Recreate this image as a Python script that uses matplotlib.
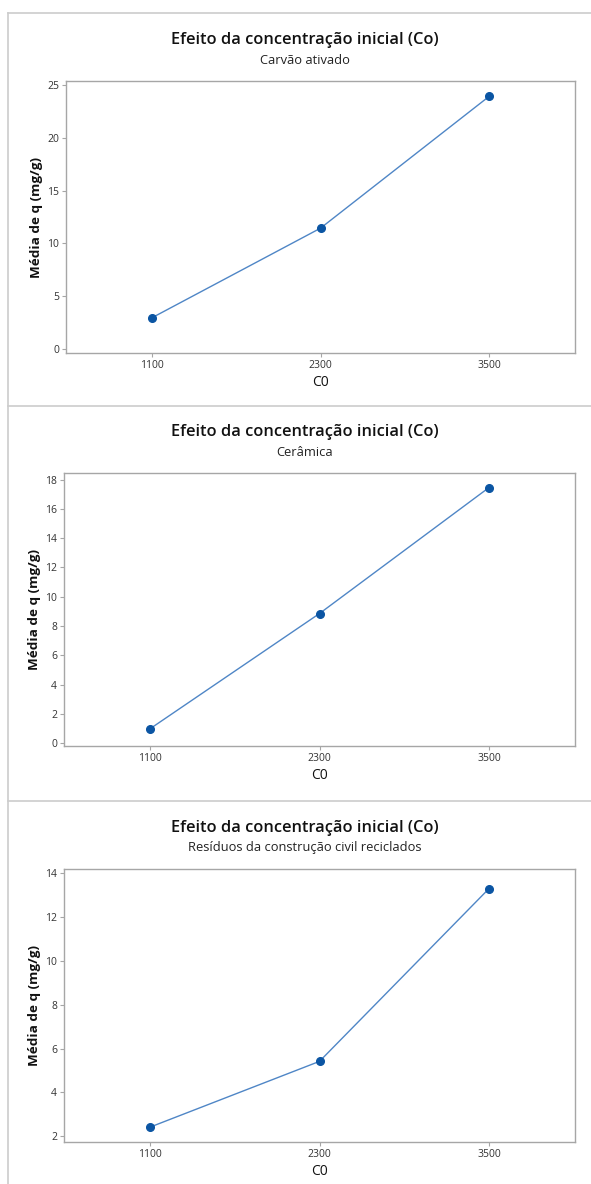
import numpy as np
import matplotlib
matplotlib.use("Agg")
import matplotlib.pyplot as plt
from matplotlib.lines import Line2D

plt.rcParams['font.family'] = ['Open Sans', 'DejaVu Sans']

# Data
c0_levels = [1100, 2300, 3500]
c0_labels = ['1100', '2300', '3500']
q_carvao = [2.95, 11.45, 23.95]
q_ceramica = [0.98, 8.85, 17.45]
q_residuos = [2.42, 5.42, 13.3]

main_title = 'Efeito da concentração inicial (Co)'
subtitles = ['Carvão ativado', 'Cerâmica', 'Resíduos da construção civil reciclados']
y_ticks = [np.arange(0, 26, 5), np.arange(0, 19, 2), np.arange(2, 15, 2)]
y_lims = [(-0.38, 25.4), (-0.2, 18.45), (1.74, 14.2)]
series = [q_carvao, q_ceramica, q_residuos]

W, H = 591, 1184
fig = plt.figure(figsize=(W / 100, H / 100), dpi=100)

# axes boxes in pixels: left, top, right, bottom
boxes = [(66, 81, 575, 353), (64, 473, 575, 746), (64, 869, 575, 1142)]
title_y = [40, 432, 828]

line_col = '#4f86c6'
mark_col = '#0b55a3'
spine_col = '#a6a6a6'
text_col = '#333333'

for i in range(3):
    l, t, r, b = boxes[i]
    ax = fig.add_axes([l / W, 1 - b / H, (r - l) / W, (b - t) / H])
    ax.plot(c0_levels, series[i], color=line_col, lw=1.0, zorder=2)
    ax.plot(c0_levels, series[i], 'o', color=mark_col, ms=5.5, zorder=3)
    ax.set_xlim(490, 4110)
    ax.set_ylim(*y_lims[i])
    ax.set_xticks(c0_levels)
    ax.set_xticklabels(c0_labels)
    ax.set_yticks(y_ticks[i])
    for s in ax.spines.values():
        s.set_color(spine_col)
        s.set_linewidth(1.0)
    ax.tick_params(axis='both', colors=spine_col, labelcolor=text_col,
                   labelsize=7.5, length=3, width=0.8, pad=2)
    ax.set_xlabel('C0', fontsize=10, color='#111111', labelpad=3)
    ax.set_ylabel('Média de q (mg/g)', fontsize=9.7, fontweight='bold',
                  color='#111111', labelpad=3)
    ty = title_y[i]
    fig.text(305 / W, 1 - ty / H, main_title, ha='center', va='center',
             fontsize=11.8, fontweight='semibold', color='#111111')
    fig.text(305 / W, 1 - (ty + 20) / H, subtitles[i], ha='center', va='center',
             fontsize=9.3, color='#222222')

# panel frame lines
frame_col = '#cccccc'
fig.add_artist(Line2D([8 / W, 8 / W], [1 - 13 / H, 0], color=frame_col, lw=1.2))
for yy in [13, 406, 801]:
    fig.add_artist(Line2D([8 / W, 1], [1 - yy / H, 1 - yy / H], color=frame_col, lw=1.2))

fig.savefig('out.png', dpi=100, facecolor='white')
